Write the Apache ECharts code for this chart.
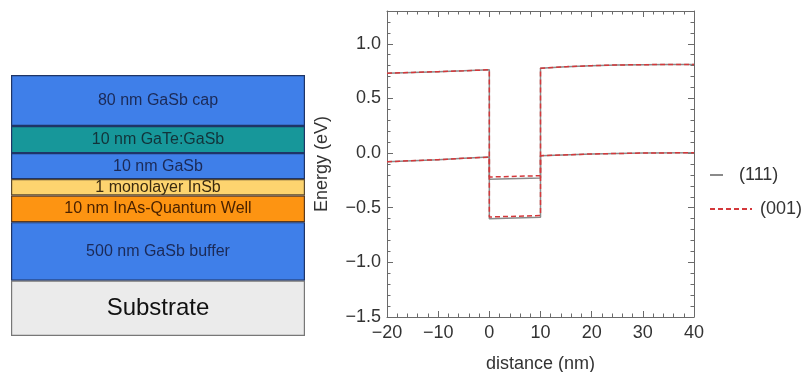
<!DOCTYPE html>
<html>
<head>
<meta charset="utf-8">
<script src="https://cdn.jsdelivr.net/npm/echarts@6/dist/echarts.min.js"></script>
<style>html,body{margin:0;padding:0;background:#fff;}#c{width:806px;height:372px;}</style>
</head>
<body>
<div id="c"></div>
<script>
// ---- layer stack schematic (display thickness in schematic units, top to bottom) ----
const layerNames = ['80 nm GaSb cap', '10 nm GaTe:GaSb', '10 nm GaSb', '1 monolayer InSb', '10 nm InAs-Quantum Well', '500 nm GaSb buffer', 'Substrate'];
const layerHeights = [51, 27, 26, 16.4, 26.6, 58.4, 55.3];

// ---- band-edge profiles ----
const distUpper = [-20, -15, -10, -5, 0, 0, 10, 10, 15, 20, 25, 30, 35, 40];
const e111Upper = [0.731, 0.738, 0.745, 0.753, 0.762, -0.240, -0.228, 0.777, 0.790, 0.800, 0.806, 0.809, 0.810, 0.811];
const e001Upper = [0.731, 0.738, 0.745, 0.753, 0.762, -0.219, -0.207, 0.777, 0.790, 0.800, 0.806, 0.809, 0.810, 0.811];
const distLower = [-20, -10, -5, 0, 0, 10, 10, 20, 30, 40];
const e111Lower = [-0.079, -0.060, -0.048, -0.037, -0.600, -0.588, -0.024, -0.008, 0.000, 0.003];
const e001Lower = [-0.079, -0.060, -0.048, -0.037, -0.585, -0.572, -0.024, -0.008, 0.000, 0.003];

const xTicks = [-20, -10, 0, 10, 20, 30, 40];
const yTickLabels = ['−1.5', '−1.0', '−0.5', '0.0', '0.5', '1.0'];

const FONT = "'Liberation Sans', Arial, sans-serif";
const layerFill = ['#3f7fe9', '#17979a', '#3f7fe9', '#fdd46f', '#fd9412', '#3f7fe9', '#ebebeb'];
const layerText = ['#1b2a57', '#12333a', '#1b2a57', '#3a2a10', '#4a2200', '#1b2a57', '#111111'];
const layerBorder = ['#1f3566', '#1f3566', '#1f3566', '#5a4a30', '#5a3a20', '#1f3566', '#777777'];

function pairs(xs, ys) { return xs.map((x, i) => [x, ys[i]]); }

const frameColor = '#6a6a6a';
const chart = echarts.init(document.getElementById('c'), null, { renderer: 'canvas' });

const stackSeries = layerNames.map((name, i) => ({
  type: 'bar',
  name: name,
  stack: 'layers',
  xAxisIndex: 4,
  yAxisIndex: 4,
  barWidth: '100%',
  data: [layerHeights[i]],
  itemStyle: { color: layerFill[i], borderColor: layerBorder[i], borderWidth: 1.2 },
  label: {
    show: true, position: 'inside', formatter: name,
    color: layerText[i], fontFamily: FONT,
    fontSize: i === 6 ? 24 : 16
  },
  silent: true,
  animation: false
}));

function lineSeries(name, data, color, type) {
  return {
    type: 'line', name: name, data: data,
    xAxisIndex: 0, yAxisIndex: 0,
    symbol: 'none', showSymbol: false,
    lineStyle: { color: color, width: 1.5, type: type },
    itemStyle: { color: color },
    z: type === 'solid' ? 2 : 3,
    animation: false
  };
}

const mainGrid = { left: 387, top: 11, width: 307, height: 306, outerBoundsMode: 'none', containLabel: false };
const axisCommonX = { type: 'value', min: -20, max: 40, gridIndex: 0, splitLine: { show: false } };
const axisCommonY = { type: 'value', min: -1.5, max: 1.3, gridIndex: 0, splitLine: { show: false } };
const frameLine = { show: true, onZero: false, lineStyle: { color: frameColor, width: 1 } };
const noLine = { show: false, onZero: false };

chart.setOption({
  animation: false,
  grid: [
    mainGrid,
    { left: 11, top: 75, width: 294, height: 261, outerBoundsMode: 'none', containLabel: false }
  ],
  legend: [
    {
      data: ['(111)'], left: 704, top: 161, itemWidth: 13, itemHeight: 14,
      itemStyle: { opacity: 0 },
      textStyle: { fontFamily: FONT, fontSize: 18, color: '#333', padding: [0, 0, 0, 11] }
    },
    {
      data: ['(001)'], left: 704, top: 195, itemWidth: 42, itemHeight: 14,
      itemStyle: { opacity: 0 },
      textStyle: { fontFamily: FONT, fontSize: 18, color: '#333', padding: [0, 0, 0, 3] }
    }
  ],
  xAxis: [
    Object.assign({}, axisCommonX, {
      position: 'bottom', interval: 10,
      name: 'distance (nm)', nameLocation: 'middle', nameGap: 38,
      nameTextStyle: { fontFamily: FONT, fontSize: 18, color: '#333' },
      axisLine: frameLine,
      axisTick: { show: true, inside: true, length: 6, lineStyle: { color: frameColor } },
      minorTick: { show: true, splitNumber: 5, length: 3.5, lineStyle: { color: frameColor } },
      axisLabel: { fontFamily: FONT, fontSize: 18, color: '#333', margin: 7,
        formatter: v => xTicks.indexOf(v) >= 0 ? String(v).replace('-', '−') : '' }
    }),
    Object.assign({}, axisCommonX, {
      position: 'top', interval: 10,
      axisLine: frameLine,
      axisTick: { show: true, inside: true, length: 6, lineStyle: { color: frameColor } },
      minorTick: { show: true, splitNumber: 5, length: 3.5, lineStyle: { color: frameColor } },
      axisLabel: { show: false }
    }),
    Object.assign({}, axisCommonX, { show: false }),
    Object.assign({}, axisCommonX, { show: false }),
    { type: 'category', gridIndex: 1, data: ['stack'], show: false }
  ],
  yAxis: [
    Object.assign({}, axisCommonY, {
      position: 'left', interval: 0.1,
      name: 'Energy (eV)', nameLocation: 'middle', nameGap: 56,
      nameTextStyle: { fontFamily: FONT, fontSize: 18, color: '#333' },
      axisLine: frameLine,
      axisTick: { show: true, inside: true, length: 3.5, lineStyle: { color: frameColor } },
      axisLabel: { show: false }
    }),
    Object.assign({}, axisCommonY, {
      position: 'left', interval: 0.5,
      axisLine: noLine,
      axisTick: { show: true, inside: true, length: 6, lineStyle: { color: frameColor } },
      axisLabel: { fontFamily: FONT, fontSize: 18, color: '#333', margin: 6, showMaxLabel: false,
        formatter: v => {
          const idx = Math.round((v + 1.5) / 0.5);
          return (Math.abs(v + 1.5 - idx * 0.5) < 1e-6 && idx < yTickLabels.length) ? yTickLabels[idx] : '';
        } }
    }),
    Object.assign({}, axisCommonY, {
      position: 'right', interval: 0.1,
      axisLine: frameLine,
      axisTick: { show: true, inside: true, length: 3.5, lineStyle: { color: frameColor } },
      axisLabel: { show: false }
    }),
    Object.assign({}, axisCommonY, {
      position: 'right', interval: 0.5,
      axisLine: noLine,
      axisTick: { show: true, inside: true, length: 6, lineStyle: { color: frameColor } },
      axisLabel: { show: false }
    }),
    { type: 'value', gridIndex: 1, inverse: true, min: 0, max: layerHeights.reduce((a, b) => a + b, 0), show: false }
  ],
  series: [
    lineSeries('(111)', pairs(distUpper, e111Upper), '#8a8a8a', 'solid'),
    lineSeries('(111)', pairs(distLower, e111Lower), '#8a8a8a', 'solid'),
    lineSeries('(001)', pairs(distUpper, e001Upper), '#d4383b', [5, 3]),
    lineSeries('(001)', pairs(distLower, e001Lower), '#d4383b', [5, 3])
  ].concat(stackSeries)
});
</script>
</body>
</html>
